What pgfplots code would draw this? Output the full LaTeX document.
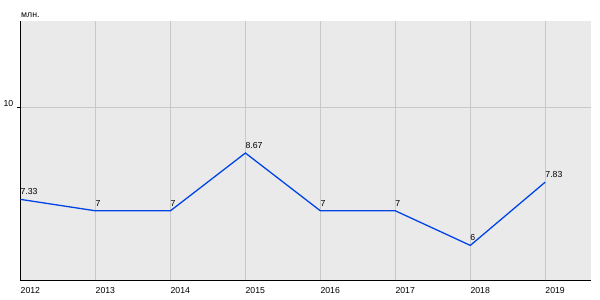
\documentclass[border=0pt]{standalone}
\usepackage{fontspec}
\setmainfont{Liberation Sans}
\usepackage{pgfplots}
\pgfplotsset{compat=1.18}
\definecolor{bgc}{HTML}{EAEAEA}
\definecolor{gridc}{HTML}{C8C8C8}
\definecolor{linec}{HTML}{0044E6}
\begin{document}
\begin{tikzpicture}
\useasboundingbox (-20.5bp,-20bp) rectangle (579.5bp,280bp);
\begin{axis}[
  at={(0,0)}, anchor=south west,
  scale only axis, width=570.5bp, height=259.5bp,
  xmin=0, xmax=7.61, ymin=5, ymax=12.5,
  axis x line*=bottom, axis y line*=left,
  axis line style={black, line width=0.9bp},
  axis background/.style={fill=bgc},
  xtick={0,1,2,3,4,5,6,7},
  xticklabels={2012,2013,2014,2015,2016,2017,2018,2019},
  ytick={10},
  xmajorgrids, ymajorgrids,
  major grid style={gridc, line width=0.8bp},
  x tick style={draw=none},
  y tick style={black, line width=0.8bp},
  tick align=outside, major tick length=3bp,
  every tick label/.style={font=\fontsize{8.7bp}{10bp}\selectfont},
  /pgf/number format/assume math mode=true,
  xticklabel style={anchor=north west, inner sep=0pt, yshift=-4bp},
  yticklabel style={anchor=east, inner sep=0pt, xshift=-4bp, yshift=3.5bp},
  clip=false,
]
\addplot[linec, line width=1.3bp, mark=none,
  nodes near coords,
  point meta=explicit symbolic,
  every node near coord/.style={anchor=south west, inner sep=0pt, yshift=4bp, xshift=-0.5bp, font=\fontsize{8.7bp}{10bp}\selectfont, text=black}]
  table[meta=lab] {
x y lab
0 7.33 7.33
1 7 7
2 7 7
3 8.67 8.67
4 7 7
5 7 7
6 6 6
7 7.83 7.83
};
\node[anchor=south west, inner sep=0pt, font=\fontsize{8.7bp}{10bp}\selectfont] at (rel axis cs:0,1) [yshift=3bp, xshift=0.5bp] {млн.};
\end{axis}
\end{tikzpicture}
\end{document}
